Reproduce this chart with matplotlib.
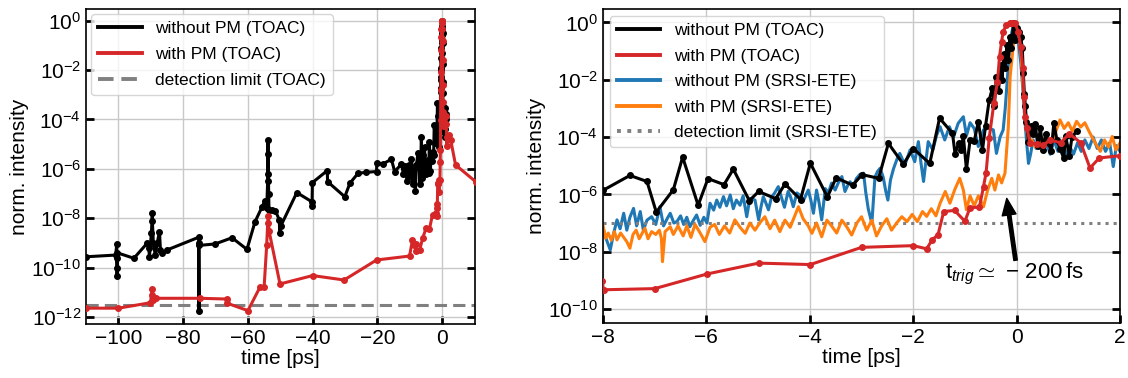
import numpy as np
import matplotlib.pyplot as plt
from matplotlib.lines import Line2D
from matplotlib.ticker import NullLocator

plt.rcParams['font.family'] = ['Liberation Sans', 'DejaVu Sans']
plt.rcParams['mathtext.fontset'] = 'custom'
plt.rcParams['mathtext.rm'] = 'Liberation Sans'
plt.rcParams['mathtext.it'] = 'Liberation Sans:italic'
plt.rcParams['mathtext.bf'] = 'Liberation Sans:bold'

# TOAC without PM: time [ps], log10 of norm. intensity
black_t = [-110, -100.8, -100.5, -100.5, -100.4, -100.4, -100.3, -95.2, -91.1, -90.6,
           -90.4, -89.8, -89.5, -89.5, -89.2, -88.6, -88.0, -87.3, -87.0, -86.5,
           -84.9, -75.2, -75.2, -75.1, -75.1, -70.1, -64.9, -60.3, -57.8, -55.7,
           -54.8, -54.2, -53.9, -53.8, -53.8, -53.7, -53.6, -53.5, -52.6, -51.5,
           -50.3, -50.2, -49.8, -44.9, -40.3, -40.2, -40.1, -35.5, -35.4, -30.1,
           -28.5, -26.0, -23.4, -20.3, -20.2, -18.3, -15.7, -14.7, -12.6, -12.0,
           -11.4, -10.9, -10.4, -10.0, -9.5, -9.1, -8.7, -8.3, -8.0,
           -7.48, -7.15, -6.97, -6.64, -6.46, -6.16, -5.97, -5.66, -5.48, -5.17,
           -4.99, -4.66, -4.48, -4.18, -3.99, -3.66, -3.49, -3.17, -2.99, -2.67,
           -2.48, -2.19, -2.0, -1.68, -1.49, -1.24, -1.19, -1.12, -1.08, -1.03,
           -0.97, -0.9, -0.82, -0.74, -0.66, -0.6, -0.53, -0.47, -0.43, -0.39,
           -0.35, -0.31, -0.28, -0.25, -0.22, -0.19, -0.16, -0.13, -0.10, -0.06,
           -0.03, 0.0, 0.04, 0.08, 0.11, 0.13, 0.15, 0.17, 0.19, 0.23,
           0.27, 0.31, 0.36, 0.41, 0.46, 0.51, 0.56, 0.62, 0.67, 0.72,
           0.78, 0.84, 0.91, 0.95, 1.02, 1.07, 1.16]
black_lg = [-9.56, -9.49, -9.05, -9.6, -10.0, -10.34, -9.4, -9.62, -9.01, -9.2,
            -9.55, -8.6, -7.8, -8.1, -9.0, -9.5, -9.0, -8.54, -9.3, -9.42,
            -9.28, -8.77, -9.0, -11.75, -9.1, -9.04, -8.79, -9.26, -8.14, -7.56,
            -7.3, -7.6, -6.5, -4.83, -5.4, -6.2, -7.0, -7.66, -7.66, -7.7,
            -8.07, -8.61, -8.3, -6.96, -7.33, -7.5, -6.56, -6.07, -6.52, -7.13,
            -6.58, -6.18, -6.14, -6.11, -5.77, -5.8, -5.61, -6.11, -5.81, -6.2,
            -5.9, -6.5, -5.85, -6.3, -5.61, -6.6, -6.0, -6.9, -5.86,
            -5.34, -5.55, -6.62, -5.84, -4.7, -6.38, -5.45, -5.66, -5.12, -6.22,
            -5.9, -6.15, -5.64, -6.18, -4.91, -6.09, -5.42, -5.68, -5.31, -5.44,
            -4.22, -4.95, -4.4, -4.92, -3.34, -3.87, -4.59, -4.2, -4.45, -3.98,
            -5.13, -4.1, -4.15, -3.46, -4.45, -3.6, -2.71, -2.3, -2.9, -1.9,
            -2.4, -1.5, -2.0, -1.1, -1.6, -0.8, -1.3, -0.5, -0.9, -0.03,
            -0.6, -0.2, -0.35, -0.5, -0.9, -1.77, -2.5, -2.93, -3.46, -4.16,
            -3.6, -3.9, -3.55, -4.3, -3.7, -4.44, -3.9, -4.2, -4.5, -3.52,
            -4.1, -4.4, -4.73, -3.95, -4.67, -4.0, -3.8]

# TOAC with PM
red_t = [-110, -100, -90.1, -89.5, -89.5, -89.3, -88.5, -74.7, -66.5, -66.4,
         -60, -56.2, -55, -54.2, -53.9, -53.7, -53.5, -50.1, -40, -30.3,
         -20.3, -10.1, -9.2, -8.6, -8.02, -7.99, -7.0, -5.99, -4.99, -3.99,
         -3.0, -2.0, -1.74, -1.63, -1.52, -1.41, -1.2, -1.0, -0.9, -0.72,
         -0.64, -0.59, -0.53, -0.44, -0.37, -0.33, -0.29, -0.26, -0.2, -0.13,
         -0.08, -0.03, 0.03, 0.08, 0.12, 0.14, 0.16, 0.2, 0.26, 0.4,
         0.52, 0.65, 0.85, 1.02, 1.24, 1.42, 1.6, 2.0, 2.6, 4.1, 10.3]
red_lg = [-11.64, -11.64, -11.42, -10.87, -11.1, -11.3, -11.24, -11.24, -11.27, -11.44,
          -11.74, -10.77, -10.79, -9.08, -8.2, -7.91, -8.5, -10.66, -10.32, -10.5,
          -9.69, -9.53, -8.88, -9.1, -9.03, -9.33, -9.29, -8.78, -8.4, -8.45,
          -7.85, -7.79, -7.9, -7.58, -7.41, -6.6, -6.56, -6.94, -6.46, -6.45,
          -5.73, -5.24, -4.04, -2.82, -2.07, -1.19, -0.67, -0.32, -0.1, -0.03,
          -0.02, -0.03, -0.32, -0.84, -1.6, -2.59, -3.29, -3.69, -4.21, -4.25,
          -4.28, -4.1, -4.2, -3.88, -4.2, -5.08, -4.73, -4.65, -4.83, -5.84, -6.52]

# SRSI-ETE without PM
blue_t = [-8.00, -7.94, -7.86, -7.80, -7.73, -7.67, -7.60, -7.54, -7.48, -7.41,
          -7.35, -7.28, -7.22, -7.15, -7.06, -6.98, -6.90, -6.83, -6.76, -6.70,
          -6.63, -6.57, -6.50, -6.44, -6.38, -6.32, -6.25, -6.19, -6.12, -6.05,
          -5.99, -5.93, -5.86, -5.80, -5.74, -5.67, -5.61, -5.54, -5.48, -5.42,
          -5.35, -5.29, -5.22, -5.16, -5.06, -5.02, -4.99, -4.94, -4.90, -4.85,
          -4.80, -4.74, -4.68, -4.61, -4.55, -4.49, -4.42, -4.37, -4.32, -4.25,
          -4.18, -4.12, -4.03, -3.98, -3.93, -3.87, -3.82, -3.77, -3.70, -3.64,
          -3.58, -3.51, -3.45, -3.38, -3.32, -3.27, -3.22, -3.16, -3.10, -3.03,
          -2.96, -2.92, -2.87, -2.80, -2.74, -2.69, -2.64, -2.58, -2.53, -2.49,
          -2.44, -2.38, -2.32, -2.26, -2.16, -2.06, -1.97, -1.90, -1.85, -1.80,
          -1.71, -1.62, -1.55, -1.48, -1.39, -1.30, -1.22, -1.13, -1.03, -0.97,
          -0.90, -0.82, -0.74, -0.64, -0.55, -0.45, -0.39, -0.32, -0.26, -0.22,
          -0.18, -0.14, -0.10, -0.06, -0.02, 0.03, 0.08, 0.12, 0.16, 0.20,
          0.23, 0.27, 0.32, 0.38, 0.45, 0.52, 0.58, 0.65, 0.72, 0.80,
          0.88, 0.95, 1.02, 1.10, 1.18, 1.25, 1.32, 1.40, 1.48, 1.56,
          1.64, 1.72, 1.80, 1.87, 1.93, 2.00]
blue_lg = [-7.18, -7.55, -7.94, -7.40, -6.89, -7.20, -6.66, -7.25, -6.80, -6.49,
           -7.10, -6.60, -7.25, -6.90, -6.78, -7.05, -6.43, -7.10, -6.85, -6.66,
           -7.00, -6.95, -6.75, -7.05, -6.80, -7.13, -6.90, -6.72, -7.08, -6.80,
           -7.00, -6.31, -6.55, -6.20, -6.45, -6.08, -6.40, -6.02, -6.50, -6.20,
           -6.38, -6.05, -6.78, -6.14, -6.20, -6.60, -6.89, -6.40, -6.08, -6.30,
           -6.54, -6.10, -5.95, -5.73, -6.10, -6.45, -5.90, -6.10, -6.43, -5.95,
           -6.05, -6.20, -5.85, -6.20, -6.66, -5.85, -6.30, -6.89, -5.80, -5.95,
           -5.61, -5.85, -5.60, -5.38, -5.90, -5.70, -5.56, -5.75, -5.45, -5.30,
           -5.26, -5.90, -6.50, -7.01, -5.40, -5.20, -5.09, -5.40, -5.90, -6.20,
           -5.50, -5.10, -4.80, -4.57, -4.97, -4.45, -4.86, -4.16, -4.90, -5.55,
           -4.16, -4.45, -3.95, -3.64, -4.10, -3.64, -4.00, -3.52, -3.29, -3.95,
           -3.50, -3.70, -4.33, -3.75, -3.69, -3.75, -4.57, -4.00, -3.75, -3.0,
           -2.0, -1.0, -0.4, -0.1, -0.2, -0.6, -1.4, -2.3, -3.4, -4.3,
           -4.92, -4.6, -4.1, -4.4, -4.0, -4.5, -4.2, -4.6, -4.1, -4.5,
           -4.2, -4.7, -4.3, -4.6, -4.2, -4.5, -4.1, -4.4, -4.0, -4.4,
           -4.1, -4.5, -4.2, -5.03, -4.3, -4.5]

# SRSI-ETE with PM
orange_t = [-8.00, -7.95, -7.90, -7.84, -7.78, -7.73, -7.66, -7.60, -7.54, -7.48,
            -7.42, -7.36, -7.30, -7.19, -7.13, -7.06, -6.98, -6.91, -6.87, -6.85,
            -6.80, -6.70, -6.64, -6.55, -6.45, -6.38, -6.30, -6.22, -6.12, -6.03,
            -5.93, -5.84, -5.75, -5.65, -5.55, -5.45, -5.35, -5.25, -5.16, -5.06,
            -4.97, -4.87, -4.77, -4.68, -4.58, -4.48, -4.38, -4.28, -4.22, -4.13,
            -4.03, -3.96, -3.87, -3.77, -3.67, -3.58, -3.48, -3.38, -3.29, -3.19,
            -3.09, -3.00, -2.90, -2.80, -2.71, -2.61, -2.51, -2.42, -2.32, -2.22,
            -2.12, -2.02, -1.92, -1.82, -1.74, -1.65, -1.56, -1.48, -1.38, -1.29,
            -1.20, -1.10, -1.03, -0.97, -0.90, -0.82, -0.74, -0.64, -0.56, -0.48,
            -0.42, -0.35, -0.29, -0.225, -0.16, -0.125, -0.06, 0.00, 0.05, 0.09,
            0.13, 0.18, 0.23, 0.29, 0.36, 0.43, 0.50, 0.58, 0.66, 0.74,
            0.84, 0.92, 1.00, 1.08, 1.16, 1.24, 1.32, 1.40, 1.52, 1.62,
            1.70, 1.78, 1.85, 1.92, 2.00]
orange_lg = [-7.10, -7.53, -7.35, -7.60, -7.30, -7.59, -7.35, -7.50, -7.65, -7.88,
             -7.40, -7.25, -7.55, -7.18, -7.55, -7.30, -7.40, -7.25, -7.55, -8.35,
             -7.30, -7.13, -7.40, -7.10, -7.45, -7.10, -7.50, -7.05, -7.35, -7.65,
             -7.15, -7.05, -7.40, -7.10, -7.35, -6.89, -7.15, -7.36, -7.00, -7.25,
             -7.00, -6.78, -7.20, -6.90, -7.30, -6.90, -7.15, -6.70, -6.43, -6.85,
             -7.10, -7.36, -7.00, -7.48, -6.90, -7.10, -7.35, -6.90, -7.12, -7.42,
             -7.00, -6.78, -7.25, -6.90, -7.45, -7.10, -6.85, -7.25, -7.00, -6.78,
             -6.95, -6.70, -6.95, -6.60, -6.77, -6.50, -6.75, -6.31, -5.90, -6.31,
             -5.85, -5.44, -5.85, -6.54, -6.05, -6.40, -6.05, -6.43, -5.85, -5.44,
             -5.85, -5.32, -5.60, -5.26, -3.64, -1.89, -0.73, -0.03, -0.38, -1.2,
             -2.4, -3.5, -4.2, -4.09, -4.35, -4.05, -4.30, -4.00, -4.25, -3.90,
             -3.40, -3.70, -3.50, -3.80, -3.45, -3.65, -3.50, -3.80, -4.20, -4.50,
             -4.10, -4.35, -3.98, -4.45, -4.2]

det_toac = 3e-12
det_srsi = 1e-7

c_black = 'black'
c_red = '#d62728'
c_blue = '#1f77b4'
c_orange = '#ff7f0e'
c_gray = 'gray'

fig = plt.figure(figsize=(11.28, 3.78), dpi=100)
ax1 = fig.add_axes([0.0762, 0.1429, 0.3446, 0.8333])
ax2 = fig.add_axes([0.5346, 0.1455, 0.4583, 0.8307])

lw = 2.2
ms = 4

# left: TOAC only
ax1.axhline(det_toac, color=c_gray, ls='--', lw=lw, dashes=(4, 2), zorder=1)
ax1.plot(black_t, 10**np.array(black_lg), '-o', color=c_black, lw=lw, ms=ms, zorder=3)
ax1.plot(red_t, 10**np.array(red_lg), '-o', color=c_red, lw=lw, ms=ms, zorder=4)
ax1.set_xlim(-110, 10)
ax1.set_yscale('log')
ax1.set_ylim(10**-12.28, 10**0.47)
ax1.set_yticks([10.0**k for k in range(0, -13, -2)])

h1 = [Line2D([], [], color=c_black, lw=2.8),
      Line2D([], [], color=c_red, lw=2.8),
      Line2D([], [], color=c_gray, lw=2.8, ls='--', dashes=(4, 2))]
ax1.legend(h1, ['without PM (TOAC)', 'with PM (TOAC)', 'detection limit (TOAC)'],
           loc='upper left', fontsize=12.5, handlelength=2.5, borderaxespad=0.3,
           labelspacing=0.62)

# right: zoom with SRSI-ETE
ax2.plot(blue_t, 10**np.array(blue_lg), '-', color=c_blue, lw=lw, zorder=2)
ax2.plot(orange_t, 10**np.array(orange_lg), '-', color=c_orange, lw=lw, zorder=2.5)
ax2.axhline(det_srsi, color=c_gray, ls=':', lw=lw, zorder=2.2)
ax2.plot(black_t, 10**np.array(black_lg), '-o', color=c_black, lw=lw, ms=ms, zorder=3)
ax2.plot(red_t, 10**np.array(red_lg), '-o', color=c_red, lw=lw, ms=ms, zorder=4)
ax2.set_xlim(-8, 2)
ax2.set_yscale('log')
ax2.set_ylim(10**-10.49, 10**0.47)
ax2.set_yticks([10.0**k for k in range(0, -11, -2)])

h2 = [Line2D([], [], color=c_black, lw=2.8),
      Line2D([], [], color=c_red, lw=2.8),
      Line2D([], [], color=c_blue, lw=2.8),
      Line2D([], [], color=c_orange, lw=2.8),
      Line2D([], [], color=c_gray, lw=2.8, ls=':')]
ax2.legend(h2, ['without PM (TOAC)', 'with PM (TOAC)', 'without PM (SRSI-ETE)',
                'with PM (SRSI-ETE)', 'detection limit (SRSI-ETE)'],
           loc='upper left', fontsize=12.5, handlelength=2.5, borderaxespad=0.4,
           labelspacing=0.6)

ax2.annotate('', xy=(-0.19, 10**-6.14), xytext=(-0.02, 10**-8.3),
             arrowprops=dict(facecolor='black', edgecolor='black', width=2.5,
                             headwidth=10, headlength=12, shrink=0))
ax2.text(-0.05, 10**-8.78, r'$\mathrm{t}_{trig} \simeq \,-\, 200\,\mathrm{fs}$',
         ha='center', va='center', fontsize=16)

for ax in (ax1, ax2):
    ax.yaxis.set_minor_locator(NullLocator())
    ax.grid(True, color='#c8c8c8', lw=1)
    ax.set_axisbelow(True)
    ax.tick_params(direction='in', length=6, width=2, labelsize=15,
                   left=True, right=True, top=False, bottom=True)
    ax.set_xlabel('time [ps]', fontsize=15, labelpad=1)
    ax.set_ylabel('norm. intensity', fontsize=15, labelpad=2)
    for s in ax.spines.values():
        s.set_color('black')
        s.set_linewidth(1.2)

fig.savefig('out.png', dpi=100)
